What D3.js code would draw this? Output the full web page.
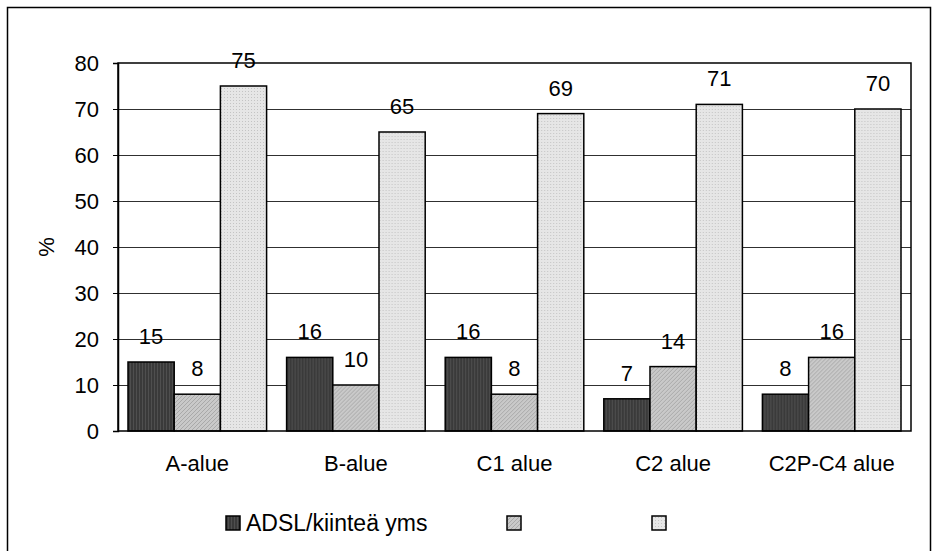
<!DOCTYPE html>
<html>
<head>
<meta charset="utf-8">
<script src="https://cdn.jsdelivr.net/npm/d3@7/dist/d3.min.js"></script>
<style>
  html, body { margin: 0; padding: 0; background: #fff; }
  svg { display: block; font-family: "Liberation Sans", Arial, sans-serif; }
</style>
</head>
<body>
<svg id="chart" width="932" height="551"></svg>
<script>
// Area categories and the three connection-type series (%)
const categories = ["A-alue", "B-alue", "C1 alue", "C2 alue", "C2P-C4 alue"];
const seriesNames = ["ADSL/kiinteä yms", "", ""];
const adsl   = [15, 16, 16, 7, 8];
const second = [8, 10, 8, 14, 16];
const third  = [75, 65, 69, 71, 70];
const yTicks = [0, 10, 20, 30, 40, 50, 60, 70, 80];

const series = [adsl, second, third];

const svg = d3.select("#chart");
const W = 932, H = 551;
const plot = { left: 118, right: 911, top: 63, bottom: 431 };
const fontSize = 22;

// Fill patterns for the three series
const defs = svg.append("defs");
const p0 = defs.append("pattern").attr("id", "pat0").attr("patternUnits", "userSpaceOnUse")
  .attr("width", 3).attr("height", 3);
p0.append("rect").attr("width", 3).attr("height", 3).attr("fill", "#3a3a3a");
p0.append("rect").attr("x", 0).attr("width", 1).attr("height", 3).attr("fill", "#4f4f4f");

const p1 = defs.append("pattern").attr("id", "pat1").attr("patternUnits", "userSpaceOnUse")
  .attr("width", 4).attr("height", 4);
p1.append("rect").attr("width", 4).attr("height", 4).attr("fill", "#c9c9c9");
p1.append("path").attr("d", "M0,4 L4,0 M-1,1 L1,-1 M3,5 L5,3").attr("stroke", "#a9a9a9").attr("stroke-width", 1);

const p2 = defs.append("pattern").attr("id", "pat2").attr("patternUnits", "userSpaceOnUse")
  .attr("width", 3).attr("height", 3);
p2.append("rect").attr("width", 3).attr("height", 3).attr("fill", "#e6e6e6");
p2.append("rect").attr("x", 1).attr("y", 1).attr("width", 1).attr("height", 1).attr("fill", "#c4c4c4");

const fills = ["url(#pat0)", "url(#pat1)", "url(#pat2)"];

// Outer chart frame
svg.append("rect")
  .attr("x", 7.5).attr("y", 7.5)
  .attr("width", W - 9).attr("height", H + 20)
  .attr("fill", "none").attr("stroke", "#000").attr("stroke-width", 1.5);

const x = d3.scaleBand().domain(categories).range([plot.left, plot.right]).paddingInner(0).paddingOuter(0);
const inner = d3.scaleBand().domain(d3.range(series.length)).range([10, x.bandwidth() - 10]).padding(0);
const y = d3.scaleLinear().domain([0, 80]).range([plot.bottom, plot.top]);

// Horizontal gridlines
svg.append("g")
  .selectAll("line")
  .data(yTicks.filter(t => t > 0 && t < 80))
  .join("line")
  .attr("x1", plot.left).attr("x2", plot.right)
  .attr("y1", d => Math.round(y(d)) + 0.5).attr("y2", d => Math.round(y(d)) + 0.5)
  .attr("stroke", "#303030").attr("stroke-width", 1);

// Bars
const groups = svg.append("g")
  .selectAll("g")
  .data(categories)
  .join("g")
  .attr("transform", d => `translate(${x(d)},0)`);

groups.each(function(cat, ci) {
  const g = d3.select(this);
  series.forEach((s, si) => {
    const v = s[ci];
    g.append("rect")
      .attr("x", inner(si))
      .attr("y", y(v))
      .attr("width", inner.bandwidth())
      .attr("height", y(0) - y(v))
      .attr("fill", fills[si])
      .attr("stroke", "#000")
      .attr("stroke-width", 1.5);
    g.append("text")
      .attr("x", inner(si) + inner.bandwidth() / 2)
      .attr("y", y(v) - 18)
      .attr("text-anchor", "middle")
      .attr("font-size", fontSize)
      .attr("fill", "#000")
      .text(v);
  });
});

// Plot area border
svg.append("rect")
  .attr("x", plot.left).attr("y", plot.top)
  .attr("width", plot.right - plot.left).attr("height", plot.bottom - plot.top)
  .attr("fill", "none").attr("stroke", "#000").attr("stroke-width", 1.5);

// Y axis
const yAxis = d3.axisLeft(y).tickValues(yTicks).tickSize(5).tickPadding(14).tickFormat(d3.format("d"));
const ya = svg.append("g").attr("transform", `translate(${plot.left},0)`).call(yAxis);
ya.select(".domain").attr("stroke", "#000").attr("stroke-width", 1.5);
ya.selectAll(".tick line").attr("stroke", "#000");
ya.selectAll(".tick text").attr("font-size", fontSize).attr("font-family", null).attr("fill", "#000");

// X axis labels
const xAxis = d3.axisBottom(x).tickSize(0).tickPadding(24);
const xa = svg.append("g").attr("transform", `translate(0,${plot.bottom})`).call(xAxis);
xa.select(".domain").remove();
xa.selectAll(".tick text").attr("font-size", fontSize).attr("font-family", null).attr("fill", "#000");

// Y axis title
svg.append("text")
  .attr("transform", `translate(54,247) rotate(-90)`)
  .attr("text-anchor", "middle")
  .attr("font-size", fontSize)
  .text("%");

// Legend
const legendX = [226, 507, 652];
const legend = svg.append("g");
seriesNames.forEach((name, i) => {
  legend.append("rect")
    .attr("x", legendX[i]).attr("y", 516)
    .attr("width", 14).attr("height", 14)
    .attr("fill", fills[i]).attr("stroke", "#000").attr("stroke-width", 1.5);
  if (name) {
    legend.append("text")
      .attr("x", legendX[i] + 20).attr("y", 531)
      .attr("font-size", 23)
      .text(name);
  }
});
</script>
</body>
</html>
